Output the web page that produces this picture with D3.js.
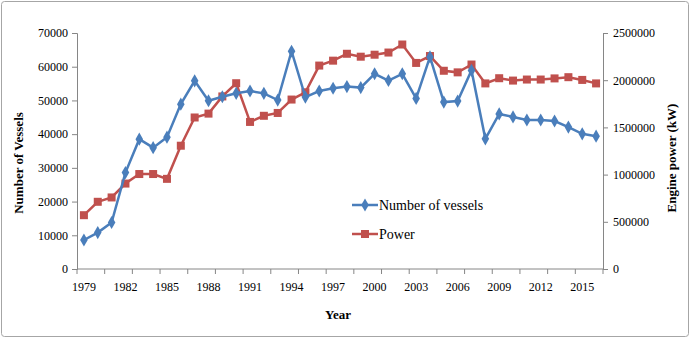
<!DOCTYPE html>
<html>
<head>
<meta charset="utf-8">
<script src="https://cdn.jsdelivr.net/npm/d3@7"></script>
<style>
  body { margin: 0; background: #fff; }
  svg { font-family: "Liberation Serif", "Times New Roman", serif; }
</style>
</head>
<body>
<div id="chart"></div>
<script>
const years = d3.range(1979, 2017);
const vessels = [8600, 10800, 13800, 28600, 38500, 36000, 39100, 48900, 55800, 49900,
  51100, 52100, 52800, 52100, 50100, 64600, 51000, 52800, 53600, 54100,
  53800, 57900, 55900, 57900, 50600, 62900, 49500, 49800, 58900, 38600,
  46000, 45100, 44200, 44200, 43900, 42100, 40100, 39400];
const power = [570000, 712000, 758000, 905000, 1006000, 1006000, 955000, 1306000, 1605000, 1646000,
  1828000, 1968000, 1558000, 1623000, 1653000, 1795000, 1872000, 2155000, 2207000, 2280000,
  2249000, 2270000, 2293000, 2378000, 2183000, 2256000, 2100000, 2083000, 2166000, 1966000,
  2021000, 1996000, 2007000, 2007000, 2019000, 2032000, 2003000, 1966000];
const leftTicks = d3.range(0, 70001, 10000);
const rightTicks = d3.range(0, 2500001, 500000);
const yearLabels = years.filter((y, i) => i % 3 === 0);

const width = 691, height = 339;
const plot = { left: 77, right: 603, top: 33, bottom: 269 };
const blue = "#4a7ebb", red = "#c0504d", axisColor = "#868686";

const svg = d3.select("#chart").append("svg")
  .attr("width", width)
  .attr("height", height);

// outer border
svg.append("rect")
  .attr("x", 1.5).attr("y", 1.5)
  .attr("width", width - 4).attr("height", height - 4)
  .attr("rx", 3)
  .attr("fill", "#fff")
  .attr("stroke", "#a6a6a6");

const x = d3.scaleBand().domain(years).range([plot.left, plot.right]);
const yL = d3.scaleLinear().domain([0, 70000]).range([plot.bottom, plot.top]);
const yR = d3.scaleLinear().domain([0, 2500000]).range([plot.bottom, plot.top]);
const cx = d => x(d) + x.bandwidth() / 2;

// left axis
const gl = svg.append("g").attr("transform", `translate(${plot.left},0)`)
  .call(d3.axisLeft(yL).tickValues(leftTicks).tickFormat(d3.format("d")).tickSizeOuter(0).tickSize(5).tickPadding(4));
// right axis
const gr = svg.append("g").attr("transform", `translate(${plot.right},0)`)
  .call(d3.axisRight(yR).tickValues(rightTicks).tickFormat(d3.format("d")).tickSizeOuter(0).tickSize(5).tickPadding(5));
// x axis: ticks at every second category boundary, labels every third year
const boundaries = d3.range(0, years.length + 1, 2).map(i => plot.left + i * x.step());
const gx = svg.append("g").attr("transform", `translate(0,${plot.bottom})`);
gx.append("line").attr("x1", plot.left).attr("x2", plot.right);
gx.selectAll(".tk").data(boundaries).join("line")
  .attr("class", "tk")
  .attr("x1", d => d).attr("x2", d => d)
  .attr("y1", 0).attr("y2", 5);
gx.selectAll("text").data(yearLabels).join("text")
  .attr("x", d => cx(d))
  .attr("y", 22)
  .attr("text-anchor", "middle")
  .text(d => d);

[gl, gr, gx].forEach(g => {
  g.selectAll("path, line").attr("stroke", axisColor);
  g.selectAll("text").attr("fill", "#000").style("font-size", "12px")
    .style("font-family", "'Liberation Serif', 'Times New Roman', serif");
});

// axis titles
svg.append("text")
  .attr("transform", `translate(23,163) rotate(-90)`)
  .attr("text-anchor", "middle")
  .style("font-size", "13px").style("font-weight", "bold")
  .text("Number of Vessels");
svg.append("text")
  .attr("transform", `translate(676,158) rotate(-90)`)
  .attr("text-anchor", "middle")
  .style("font-size", "13px").style("font-weight", "bold")
  .text("Engine power (kW)");
svg.append("text")
  .attr("x", 338).attr("y", 319)
  .attr("text-anchor", "middle")
  .style("font-size", "13px").style("font-weight", "bold")
  .text("Year");

// lines
const lineL = d3.line().x((d, i) => cx(years[i])).y(d => yL(d));
const lineR = d3.line().x((d, i) => cx(years[i])).y(d => yR(d));

svg.append("path").attr("d", lineR(power))
  .attr("fill", "none").attr("stroke", red).attr("stroke-width", 2.5);
svg.selectAll(".sq").data(power).join("rect")
  .attr("class", "sq")
  .attr("x", (d, i) => cx(years[i]) - 4)
  .attr("y", d => yR(d) - 4)
  .attr("width", 8).attr("height", 8)
  .attr("fill", red);

svg.append("path").attr("d", lineL(vessels))
  .attr("fill", "none").attr("stroke", blue).attr("stroke-width", 2.5);
const diamond = d3.symbol().type(d3.symbolDiamond).size(50);
svg.selectAll(".dm").data(vessels).join("path")
  .attr("class", "dm")
  .attr("transform", (d, i) => `translate(${cx(years[i])},${yL(d)})`)
  .attr("d", diamond)
  .attr("fill", blue);

// legend
const legend = svg.append("g").attr("transform", "translate(352,0)");
const items = [
  { name: "Number of vessels", color: blue, y: 205, mark: "d" },
  { name: "Power", color: red, y: 234, mark: "s" }
];
items.forEach(it => {
  legend.append("line")
    .attr("x1", 0).attr("x2", 26)
    .attr("y1", it.y).attr("y2", it.y)
    .attr("stroke", it.color).attr("stroke-width", 2.5);
  if (it.mark === "d") {
    legend.append("path").attr("d", diamond)
      .attr("transform", `translate(13,${it.y})`).attr("fill", it.color);
  } else {
    legend.append("rect").attr("x", 9).attr("y", it.y - 4)
      .attr("width", 8).attr("height", 8).attr("fill", it.color);
  }
  legend.append("text")
    .attr("x", 27).attr("y", it.y + 5)
    .style("font-size", "14px")
    .text(it.name);
});
</script>
</body>
</html>
